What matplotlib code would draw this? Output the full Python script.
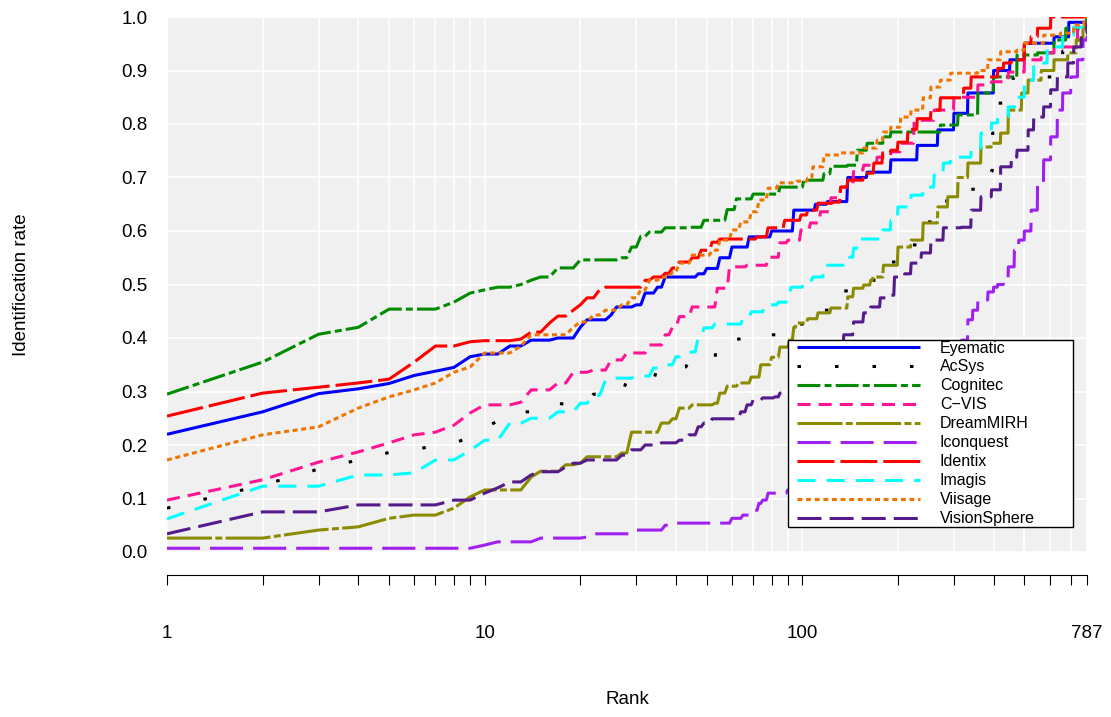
import numpy as np
import matplotlib
matplotlib.use("Agg")
import matplotlib.pyplot as plt
from matplotlib.patches import Rectangle

plt.rcParams['font.family'] = ['Liberation Sans', 'DejaVu Sans']
plt.rcParams['lines.scale_dashes'] = False

# rank / identification rate (value holds until the next listed rank)
eyematic_r = [1,2,3,4,5,6,7,8,9,10,12,14,17,20,21,25,26,30,32,35,37,47,50,55,60,68,80,94,110,120,139,160,190,230,267,300,332,400,450,500,620,690,787]
eyematic_v = [.220,.262,.296,.305,.315,.330,.338,.345,.365,.370,.385,.396,.400,.420,.434,.443,.458,.462,.484,.495,.514,.520,.530,.550,.570,.589,.600,.639,.650,.655,.700,.710,.733,.760,.789,.820,.858,.900,.920,.951,.963,.990,1.0]

acsys_r = [1,2,3,4,5,6,7,8,9,10,11,13,17,22,28,35,44,54,70,87,105,125,156,184,215,247,280,340,394,397,412,461,660,735,787]
acsys_v = [.082,.125,.155,.172,.186,.192,.198,.203,.215,.232,.245,.262,.277,.295,.320,.346,.359,.398,.406,.426,.452,.488,.508,.542,.574,.617,.656,.678,.712,.783,.839,.888,.936,.979,1.0]

cognitec_r = [1,2,3,4,5,6,7,8,9,10,11,13,14,15,17,20,27,29,31,33,37,45,49,58,62,70,85,96,101,117,123,139,149,160,180,190,240,272,309,357,400,474,550,620,675,787]
cognitec_v = [.295,.355,.407,.420,.454,.454,.454,.467,.484,.490,.495,.500,.508,.514,.531,.546,.550,.570,.590,.598,.606,.607,.620,.640,.660,.669,.682,.682,.695,.707,.721,.723,.751,.764,.776,.785,.785,.798,.817,.858,.888,.929,.933,.957,.979,1.0]

cvis_r = [1,2,3,4,5,6,7,8,9,10,13,14,17,19,22,25,28,30,33,37,39,41,45,54,59,67,78,85,90,99,106,114,123,132,145,156,172,190,204,225,260,300,357,394,445,500,565,620,685,735,787]
cvis_v = [.097,.135,.168,.187,.204,.219,.224,.237,.260,.275,.280,.303,.316,.336,.340,.359,.372,.372,.387,.406,.420,.440,.458,.493,.533,.536,.551,.578,.583,.602,.615,.636,.662,.682,.714,.723,.738,.748,.764,.807,.826,.850,.873,.879,.897,.920,.933,.944,.944,.976,.990]

dream_r = [1,2,3,4,5,6,7,8,9,10,13,14,15,18,20,21,23,27,29,35,36,39,41,45,53,55,58,63,69,74,80,85,91,94,96,104,112,123,134,139,145,156,164,167,180,200,220,240,267,287,309,332,365,394,421,445,490,514,565,620,685,728,765,787]
dream_v = [.026,.026,.041,.047,.063,.069,.069,.082,.103,.116,.116,.140,.151,.163,.166,.178,.178,.185,.224,.224,.241,.249,.269,.275,.278,.297,.310,.316,.327,.350,.364,.383,.396,.420,.428,.436,.447,.456,.456,.477,.493,.499,.508,.514,.536,.570,.583,.615,.645,.664,.700,.727,.757,.764,.783,.826,.858,.882,.900,.920,.933,.957,.981,.985]

iconq_r = [1,9,10,11,14,15,21,22,27,30,35,37,39,58,60,65,70,73,75,78,85,90,110,150,200,250,300,317,332,344,357,384,400,412,430,445,465,480,500,525,550,575,605,635,660,700,735,765,787]
iconq_v = [.007,.007,.013,.019,.019,.026,.028,.034,.034,.041,.041,.050,.054,.054,.063,.069,.078,.091,.097,.110,.110,.116,.120,.170,.230,.300,.370,.396,.434,.452,.471,.486,.495,.500,.510,.533,.564,.583,.600,.639,.690,.733,.776,.826,.858,.888,.920,.957,.965]

identix_r = [1,2,3,4,5,6,7,8,9,10,13,14,16,17,19,20,21,23,24,30,32,34,37,39,41,45,48,52,55,65,72,78,85,88,99,104,112,125,132,139,156,168,179,190,200,215,230,254,272,317,322,340,394,412,430,455,500,525,550,605,787]
identix_v = [.254,.297,.308,.316,.323,.355,.385,.385,.393,.395,.398,.411,.428,.441,.452,.462,.475,.490,.495,.495,.508,.514,.521,.531,.542,.550,.564,.579,.585,.585,.589,.606,.606,.620,.630,.639,.652,.654,.682,.695,.708,.727,.746,.751,.766,.790,.810,.826,.849,.850,.867,.888,.888,.904,.914,.920,.951,.963,.979,1.0,1.0]

imagis_r = [1,2,3,4,5,6,7,8,9,10,12,14,17,19,20,22,24,25,30,33,34,37,40,42,45,47,49,53,60,65,69,76,84,90,92,101,108,117,129,139,145,153,166,179,190,200,220,240,260,278,293,340,365,394,412,445,474,500,535,590,660,715,787]
imagis_v = [.062,.123,.123,.144,.144,.148,.172,.172,.190,.209,.241,.250,.262,.262,.278,.293,.321,.325,.329,.329,.344,.350,.365,.372,.374,.402,.419,.426,.426,.437,.449,.462,.467,.477,.495,.508,.514,.536,.536,.551,.568,.585,.585,.602,.620,.645,.667,.682,.705,.727,.738,.751,.783,.802,.813,.832,.850,.882,.914,.944,.966,.981,.990]

viisage_r = [1,2,3,4,5,6,7,8,9,10,13,14,17,19,20,22,24,27,29,31,33,36,39,41,45,52,55,60,64,69,73,78,84,96,104,108,117,132,142,156,172,180,190,204,220,240,254,272,293,357,384,421,474,500,575,650,715,770,787]
viisage_v = [.172,.219,.234,.269,.290,.303,.316,.336,.346,.372,.385,.406,.406,.420,.430,.443,.452,.462,.475,.490,.508,.514,.523,.540,.555,.564,.583,.602,.617,.636,.658,.680,.690,.693,.699,.720,.742,.746,.746,.755,.770,.785,.794,.813,.826,.849,.869,.882,.895,.900,.920,.935,.938,.951,.966,.970,.985,1.0,1.0]

vsphere_r = [1,2,3,4,7,8,9,10,11,12,14,15,17,18,19,21,25,27,29,32,36,41,44,47,49,52,60,64,67,70,75,82,85,100,120,135,145,156,164,176,190,195,210,220,237,254,278,317,340,365,394,421,455,474,514,535,575,605,635,685,715,755,787]
vsphere_v = [.034,.075,.075,.088,.088,.097,.097,.110,.120,.131,.144,.150,.150,.159,.166,.172,.172,.181,.191,.200,.204,.209,.219,.234,.241,.249,.249,.262,.275,.284,.288,.290,.297,.320,.370,.406,.430,.447,.458,.475,.480,.514,.520,.540,.559,.583,.606,.607,.639,.664,.677,.720,.738,.751,.789,.813,.832,.864,.888,.914,.944,.970,.990]

names = ["Eyematic", "AcSys", "Cognitec", "C\u2212VIS", "DreamMIRH",
         "Iconquest", "Identix", "Imagis", "Viisage", "VisionSphere"]
ranks = [eyematic_r, acsys_r, cognitec_r, cvis_r, dream_r, iconq_r, identix_r, imagis_r, viisage_r, vsphere_r]
rates = [eyematic_v, acsys_v, cognitec_v, cvis_v, dream_v, iconq_v, identix_v, imagis_v, viisage_v, vsphere_v]

colors = ["#0000FF", "#000000", "#008B00", "#FF1493", "#8B8B00",
          "#A020F0", "#FF0000", "#00FFFF", "#EE7600", "#551A8B"]
# dash patterns in points
dashes = [None, (2.5, 24.5), (16.5, 3, 5, 3), (9.4, 5.8), (32.4, 2.4, 5, 2.4),
          (23.8, 7.2), (26.6, 4.3), (13, 8), (3.6, 2.6), (17.3, 5.8)]


def stair(r, v):
    # a CMC value stays flat up to the rank before the next listed one
    xs, ys = [r[0]], [v[0]]
    for i in range(1, len(r)):
        if r[i] - r[i - 1] > 1:
            xs.append(r[i] - 1)
            ys.append(v[i - 1])
        xs.append(r[i])
        ys.append(v[i])
    return xs, ys


fig = plt.figure(figsize=(11.11, 7.17), dpi=100)
ax = fig.add_axes([167 / 1111, 165 / 717, 920 / 1111, 535 / 717])
ax.set_facecolor("#F0F0F0")
ax.set_xscale("log")
ax.set_xlim(1, 787)
ax.set_ylim(0, 1)

for r, v, c, d, n in zip(ranks, rates, colors, dashes, names):
    xs, ys = stair(r, v)
    if d is None:
        ax.plot(xs, ys, color=c, lw=2.2, label=n, solid_capstyle="butt")
    else:
        ax.plot(xs, ys, color=c, lw=2.2, label=n, dashes=d)

major = [1, 10, 100, 787]
minor = [2, 3, 4, 5, 6, 7, 8, 9, 20, 30, 40, 50, 60, 70, 80, 90, 200, 300, 400, 500, 600, 700]
ax.set_xticks(major)
ax.set_xticklabels(["1", "10", "100", "787"])
ax.set_xticks(minor, minor=True)
ax.set_xticklabels([], minor=True)
ax.set_yticks(np.arange(0, 1.01, 0.1))
ax.set_yticklabels(["%.1f" % t for t in np.arange(0, 1.01, 0.1)])

ax.grid(True, which="both", color="white", lw=1.2)
ax.set_axisbelow(True)
for s in ["top", "right", "left"]:
    ax.spines[s].set_visible(False)
ax.spines["bottom"].set_position(("outward", 16.6))
ax.spines["bottom"].set_linewidth(0.8)
ax.tick_params(axis="y", length=0, pad=14, labelsize=13.5)
ax.tick_params(axis="x", which="both", direction="out", length=7.2, width=0.8,
               pad=29, labelsize=13.5)

fig.text(22 / 1111, (717 - 284.5) / 717, "Identification rate", rotation=90,
         ha="center", va="center", fontsize=13.5)
fig.text(627 / 1111, (717 - 700) / 717, "Rank", ha="center", va="center", fontsize=13.5)

# legend box (R style, wider than its contents)
box = Rectangle((788 / 1111, (717 - 527) / 717), 285 / 1111, 187 / 717,
                transform=fig.transFigure, facecolor="white", edgecolor="black",
                lw=1.0, zorder=5, clip_on=False)
ax.add_artist(box)
leg = ax.legend(loc="upper left", bbox_to_anchor=(797 / 1111, (717 - 340.5) / 717),
                bbox_transform=fig.transFigure, borderaxespad=0, fontsize=11.5,
                handlelength=7.7, handletextpad=1.25, labelspacing=0.25,
                borderpad=0, frameon=False)
leg.set_zorder(7)

fig.savefig("out.png", dpi=100)
